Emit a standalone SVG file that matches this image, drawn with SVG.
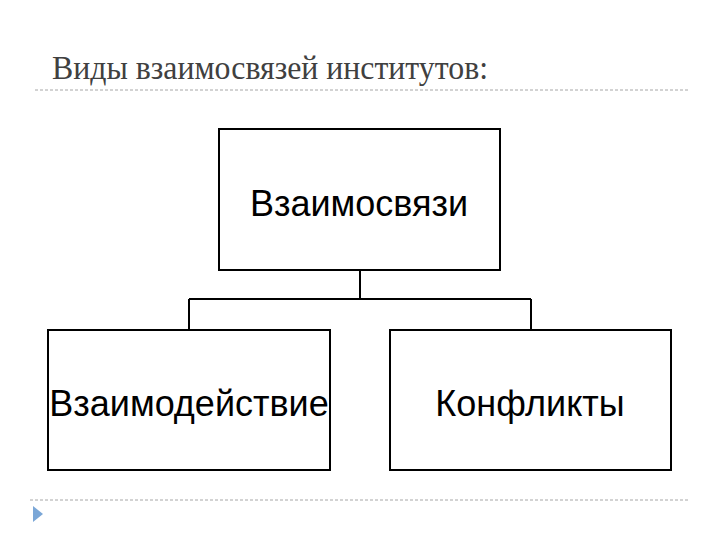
<svg xmlns="http://www.w3.org/2000/svg" width="720" height="540" viewBox="0 0 720 540">
<style>
.box{fill:#fff;stroke:#000;stroke-width:2}
.lbl{font-family:"Liberation Sans",Arial,sans-serif;font-size:36px;fill:#000;text-anchor:middle}
.conn{fill:none;stroke:#000;stroke-width:2}
.dash{stroke:#a6a6a6;stroke-width:1;stroke-dasharray:3 2}
</style>
<rect width="720" height="540" fill="#fff"/>
<text x="52" y="79" font-family="'Liberation Serif','DejaVu Serif',serif" font-size="34" fill="#404040" textLength="436" lengthAdjust="spacingAndGlyphs">Виды взаимосвязей институтов:</text>
<line class="dash" x1="35" y1="90" x2="688" y2="90"/>
<line class="dash" x1="30" y1="500" x2="688" y2="500"/>
<polygon points="33,506 43,514 33,522" fill="#7ba7d7"/>
<g id="connectors">
<path class="conn" d="M360,270 V299 M189,299 H531 M189,299 V330 M531,299 V330"/>
</g>
<g id="node-vzaimosvyazi">
<rect class="box" x="219" y="129" width="281" height="141"/>
<text class="lbl" x="359" y="216">Взаимосвязи</text>
</g>
<g id="node-vzaimodeystvie">
<rect class="box" x="48" y="330" width="282" height="140"/>
<text class="lbl" x="189" y="416">Взаимодействие</text>
</g>
<g id="node-konflikty">
<rect class="box" x="390" y="330" width="281" height="140"/>
<text class="lbl" x="530" y="416">Конфликты</text>
</g>
</svg>
